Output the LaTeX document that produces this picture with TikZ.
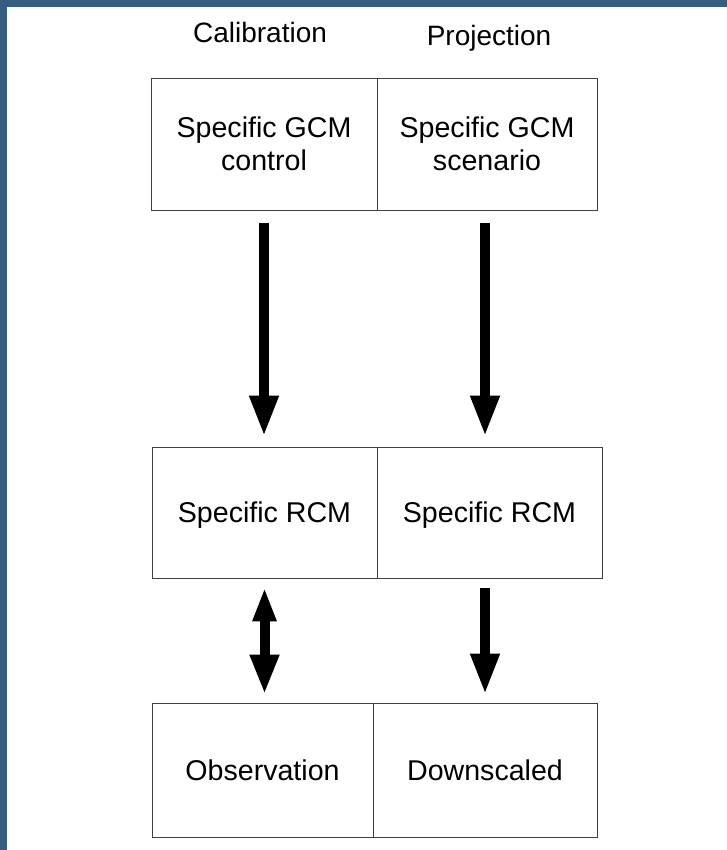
\documentclass[tikz,border=0pt]{standalone}
\usepackage{fontspec}
\setmainfont{Liberation Sans}
\usetikzlibrary{arrows.meta}
\definecolor{frameblue}{HTML}{365E80}
\tikzset{
  cell/.style={draw=black!75, line width=0.9pt, align=center, inner sep=0pt,
    font=\fontsize{28.6}{33}\selectfont, text depth=0pt},
  heading/.style={anchor=base, font=\fontsize{28}{33}\selectfont},
  flow/.style={line width=10pt, -{Triangle[length=41pt,width=27pt]}},
  twoway/.style={line width=10pt, {Triangle[length=34pt,width=22pt]}-{Triangle[length=40pt,width=27pt]}}
}
\begin{document}
\begin{tikzpicture}[x=1pt,y=-1pt]
  % page and frame strips
  \fill[white] (0,0) rectangle (727,850);
  \useasboundingbox (0,0) rectangle (727,850);
  \fill[frameblue] (0,0) rectangle (7,850);
  \fill[frameblue] (0,0) rectangle (727,7);

  % column headings
  \node[heading] (calib) at (260,43) {Calibration};
  \node[heading] (proj) at (489,46) {Projection};

  % top row
  \node[cell, minimum width=226pt, minimum height=132pt] (gcmL) at (264,144) {Specific GCM\\control};
  \node[cell, minimum width=220pt, minimum height=132pt] (gcmR) at (487,144) {Specific GCM\\scenario};

  % middle row
  \node[cell, minimum width=225pt, minimum height=131pt] (rcmL) at (264.5,512.5) {Specific RCM};
  \node[cell, minimum width=225pt, minimum height=131pt] (rcmR) at (489.5,512.5) {Specific RCM};

  % bottom row
  \node[cell, minimum width=221pt, minimum height=134pt] (obs) at (262.5,770) {Observation};
  \node[cell, minimum width=224pt, minimum height=134pt] (down) at (485,770) {Downscaled};

  % connectors
  \draw[flow] ([yshift=-13pt]gcmL.south) -- ([yshift=10pt]gcmL.south |- rcmL.north);
  \draw[flow] ([xshift=-2pt,yshift=-13pt]gcmR.south) -- ([xshift=-2pt,yshift=10pt]gcmR.south |- rcmR.north);
  \draw[twoway] ([yshift=-9pt]rcmL.south) -- ([yshift=8pt]rcmL.south |- obs.north);
  \draw[flow] ([xshift=-4.5pt,yshift=-10pt]rcmR.south) -- ([xshift=-4.5pt,yshift=8pt]rcmR.south |- down.north);
\end{tikzpicture}
\end{document}
